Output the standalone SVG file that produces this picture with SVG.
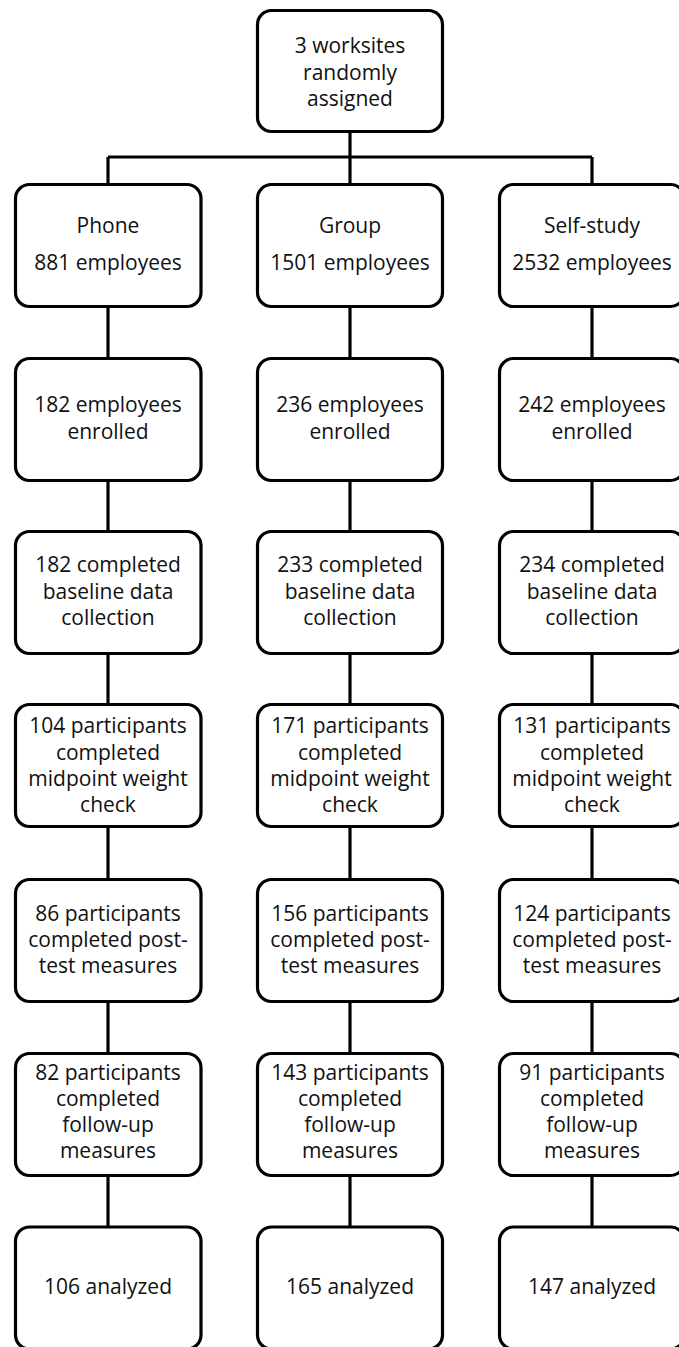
<svg xmlns="http://www.w3.org/2000/svg" width="679" height="1347" viewBox="0 0 679 1347">
<style>
.box{fill:#fff;stroke:#000;stroke-width:3.2}
.ln{stroke:#000;stroke-width:3.2;fill:none}
text{font-family:"Open Sans","Noto Sans","Liberation Sans",sans-serif;font-size:21px;fill:#111;text-anchor:middle}
</style>
<rect width="679" height="1347" fill="#fff"/>
<g id="connectors">
<path class="ln" d="M350 133V157M108 157H592M108 157V184M350 157V184M592 157V184"/>
<path class="ln" d="M108 307V358M350 307V358M592 307V358"/>
<path class="ln" d="M108 481V531M350 481V531M592 481V531"/>
<path class="ln" d="M108 654V704M350 654V704M592 654V704"/>
<path class="ln" d="M108 827V879M350 827V879M592 827V879"/>
<path class="ln" d="M108 1001V1053M350 1001V1053M592 1001V1053"/>
<path class="ln" d="M108 1175V1226M350 1175V1226M592 1175V1226"/>
</g>
<g id="n0"><rect class="box" x="257.5" y="10.5" width="185" height="121" rx="14"/><text x="350" y="53">3 worksites</text><text x="350" y="79.5">randomly</text><text x="350" y="106">assigned</text></g>
<g id="n1a"><rect class="box" x="15.5" y="184.5" width="185.5" height="122" rx="14"/><text x="108" y="233">Phone</text><text x="108" y="270">881 employees</text></g>
<g id="n1b"><rect class="box" x="257.5" y="184.5" width="185" height="122" rx="14"/><text x="350" y="233">Group</text><text x="350" y="270">1501 employees</text></g>
<g id="n1c"><rect class="box" x="499.5" y="184.5" width="185" height="122" rx="14"/><text x="592" y="233">Self-study</text><text x="592" y="270">2532 employees</text></g>
<g id="n2a"><rect class="box" x="15.5" y="358.5" width="185.5" height="122" rx="14"/><text x="108" y="412">182 employees</text><text x="108" y="438.5">enrolled</text></g>
<g id="n2b"><rect class="box" x="257.5" y="358.5" width="185" height="122" rx="14"/><text x="350" y="412">236 employees</text><text x="350" y="438.5">enrolled</text></g>
<g id="n2c"><rect class="box" x="499.5" y="358.5" width="185" height="122" rx="14"/><text x="592" y="412">242 employees</text><text x="592" y="438.5">enrolled</text></g>
<g id="n3a"><rect class="box" x="15.5" y="531.5" width="185.5" height="122" rx="14"/><text x="108" y="572">182 completed</text><text x="108" y="598.5">baseline data</text><text x="108" y="625">collection</text></g>
<g id="n3b"><rect class="box" x="257.5" y="531.5" width="185" height="122" rx="14"/><text x="350" y="572">233 completed</text><text x="350" y="598.5">baseline data</text><text x="350" y="625">collection</text></g>
<g id="n3c"><rect class="box" x="499.5" y="531.5" width="185" height="122" rx="14"/><text x="592" y="572">234 completed</text><text x="592" y="598.5">baseline data</text><text x="592" y="625">collection</text></g>
<g id="n4a"><rect class="box" x="15.5" y="704.5" width="185.5" height="122" rx="14"/><text x="108" y="733">104 participants</text><text x="108" y="759.5">completed</text><text x="108" y="786">midpoint weight</text><text x="108" y="812">check</text></g>
<g id="n4b"><rect class="box" x="257.5" y="704.5" width="185" height="122" rx="14"/><text x="350" y="733">171 participants</text><text x="350" y="759.5">completed</text><text x="350" y="786">midpoint weight</text><text x="350" y="812">check</text></g>
<g id="n4c"><rect class="box" x="499.5" y="704.5" width="185" height="122" rx="14"/><text x="592" y="733">131 participants</text><text x="592" y="759.5">completed</text><text x="592" y="786">midpoint weight</text><text x="592" y="812">check</text></g>
<g id="n5a"><rect class="box" x="15.5" y="879.5" width="185.5" height="122" rx="14"/><text x="108" y="921">86 participants</text><text x="108" y="947">completed post-</text><text x="108" y="973">test measures</text></g>
<g id="n5b"><rect class="box" x="257.5" y="879.5" width="185" height="122" rx="14"/><text x="350" y="921">156 participants</text><text x="350" y="947">completed post-</text><text x="350" y="973">test measures</text></g>
<g id="n5c"><rect class="box" x="499.5" y="879.5" width="185" height="122" rx="14"/><text x="592" y="921">124 participants</text><text x="592" y="947">completed post-</text><text x="592" y="973">test measures</text></g>
<g id="n6a"><rect class="box" x="15.5" y="1053.5" width="185.5" height="122" rx="14"/><text x="108" y="1080">82 participants</text><text x="108" y="1106">completed</text><text x="108" y="1132">follow-up</text><text x="108" y="1158">measures</text></g>
<g id="n6b"><rect class="box" x="257.5" y="1053.5" width="185" height="122" rx="14"/><text x="350" y="1080">143 participants</text><text x="350" y="1106">completed</text><text x="350" y="1132">follow-up</text><text x="350" y="1158">measures</text></g>
<g id="n6c"><rect class="box" x="499.5" y="1053.5" width="185" height="122" rx="14"/><text x="592" y="1080">91 participants</text><text x="592" y="1106">completed</text><text x="592" y="1132">follow-up</text><text x="592" y="1158">measures</text></g>
<g id="n7a"><rect class="box" x="15.5" y="1227" width="185.5" height="122" rx="14"/><text x="108" y="1294">106 analyzed</text></g>
<g id="n7b"><rect class="box" x="257.5" y="1227" width="185" height="122" rx="14"/><text x="350" y="1294">165 analyzed</text></g>
<g id="n7c"><rect class="box" x="499.5" y="1227" width="185" height="122" rx="14"/><text x="592" y="1294">147 analyzed</text></g>
</svg>
